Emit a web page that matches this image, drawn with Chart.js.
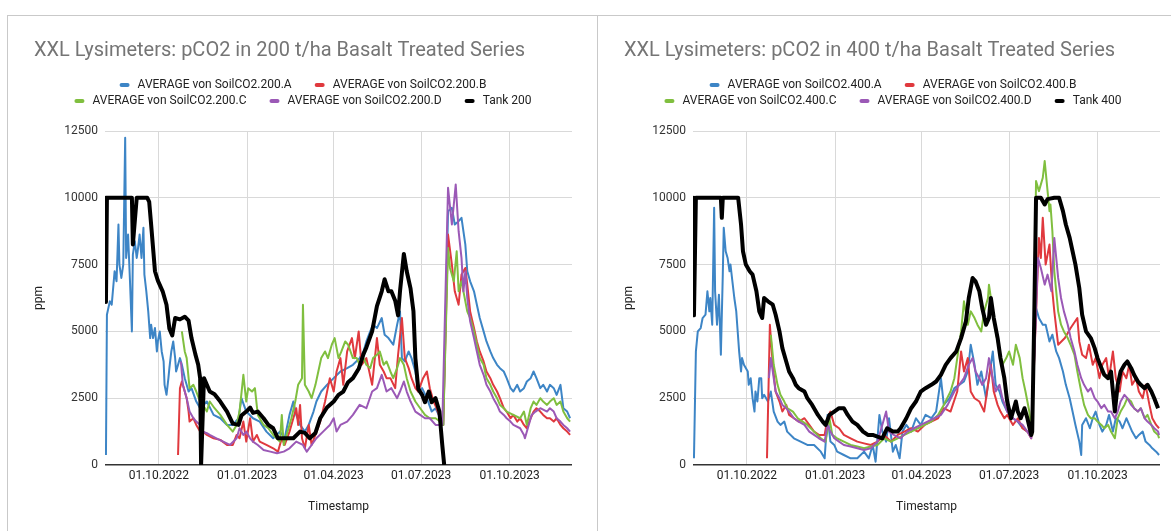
<!DOCTYPE html>
<html>
<head>
<meta charset="utf-8">
<script src="https://cdn.jsdelivr.net/npm/chart.js@4.4.0/dist/chart.umd.min.js"></script>
<style>
  body { margin:0; background:#fff; overflow:hidden; width:1171px; height:531px; position:relative; }
  .card { position:absolute; top:15px; border-top:1px solid #c9c9c9; border-left:1px solid #c9c9c9; width:590px; height:520px; }
  canvas { display:block; }
</style>
</head>
<body>
<div class="card" style="left:7px"><canvas id="c200" width="590" height="515"></canvas></div>
<div class="card" style="left:597px"><canvas id="c400" width="590" height="515"></canvas></div>
<script>
// x values are days since 01.10.2022, y values are ppm
const tickDays = [0, 92, 182, 273, 365];
const tickLabels = ['01.10.2022', '01.01.2023', '01.04.2023', '01.07.2023', '01.10.2023'];
const yTicks = [0, 2500, 5000, 7500, 10000, 12500];

const tank200 = [[-56,10000],[-55,6100],[-54,10000],[-28,10000],[-27,8250],[-23,10000],[-12,10000],[-10,9850],[-8,9000],[-4,7250],[-1,6900],[4,6500],[8,6000],[11,5100],[14,4850],[17,5500],[22,5450],[27,5550],[31,5400],[34,4750],[38,4150],[41,3750],[43,3250],[44,0],[47,3250],[53,2750],[58,2650],[64,2375],[71,2000],[77,1550],[83,1500],[86,1850],[91,2000],[95,2150],[98,1950],[103,2000],[109,1750],[114,1500],[119,1375],[124,1000],[133,1000],[140,1000],[147,1250],[152,1200],[157,1000],[163,1200],[168,1750],[175,2150],[182,2375],[187,2625],[192,2750],[197,3100],[202,3250],[208,3600],[213,4150],[216,4400],[222,5000],[227,5950],[232,6500],[235,6950],[239,6500],[242,6500],[246,6150],[249,5600],[251,6500],[255,7900],[258,7250],[262,6600],[265,5750],[267,4000],[270,2850],[274,2625],[277,2350],[281,2750],[284,2350],[288,2500],[292,2000],[295,750],[297,0]];

const soilA200 = [[-55,375],[-54,5625],[-51,6125],[-49,6000],[-46,7250],[-44,6875],[-42,9000],[-41,7500],[-39,7000],[-37,7500],[-35,12250],[-34,7750],[-32,8625],[-30,6875],[-28,5000],[-27,7875],[-25,8375],[-23,7750],[-22,8000],[-20,8625],[-18,7750],[-16,8875],[-15,7125],[-13,6500],[-11,5750],[-9,4750],[-8,5250],[-6,4750],[-4,5125],[-2,4250],[-1,4625],[1,5000],[3,4250],[5,3875],[6,3000],[8,2625],[10,3250],[11,3625],[13,4250],[15,4625],[17,4000],[18,3500],[22,4000],[24,3750],[27,3250],[31,2750],[34,2875],[39,2375],[43,2125],[50,2375],[57,1875],[64,1750],[71,1500],[77,1500],[83,1750],[86,2500],[91,2000],[98,1750],[105,1625],[112,1250],[119,1000],[126,1250],[131,1000],[136,1875],[140,2375],[143,1875],[147,1500],[152,1250],[156,1500],[161,2000],[164,2375],[169,2750],[175,3000],[182,3250],[189,3500],[196,3625],[202,3750],[209,4000],[213,4250],[216,4625],[220,5000],[223,5250],[227,5125],[232,5500],[235,4875],[239,4750],[244,4500],[248,5250],[251,5750],[253,4000],[256,3875],[260,4250],[263,4000],[267,3500],[270,2750],[274,2875],[279,2500],[284,2000],[288,2125],[293,1750],[296,1500],[301,9500],[305,9625],[308,9000],[312,9125],[315,9250],[319,8250],[321,7250],[324,6875],[328,6500],[331,6000],[334,5500],[338,5000],[341,4625],[345,4250],[348,4000],[352,3750],[355,3625],[359,3500],[362,3250],[366,2875],[369,2750],[373,3000],[376,2750],[380,2875],[383,3125],[387,3250],[390,3500],[393,3250],[397,2875],[400,3000],[404,2750],[407,3000],[411,2875],[414,2625],[418,3000],[421,2125],[425,2000],[428,1750]];

const soilB200 = [[20,375],[22,2875],[24,3125],[25,3000],[27,2750],[29,2500],[31,2000],[32,1625],[36,1750],[39,1500],[43,1250],[46,1250],[50,1125],[57,1000],[64,940],[71,750],[77,750],[81,1125],[84,1000],[88,1625],[91,875],[95,1750],[98,875],[102,1125],[105,875],[112,750],[119,625],[124,500],[128,1000],[131,750],[136,1250],[140,1750],[143,2125],[145,1500],[147,2250],[149,1000],[152,625],[156,1500],[159,750],[163,1125],[168,1625],[173,2375],[178,3250],[182,2750],[185,3500],[189,4000],[192,3000],[196,4250],[201,4750],[204,4000],[208,5000],[211,3750],[216,4000],[222,3000],[227,4750],[230,3750],[234,3500],[237,3250],[241,3250],[246,2875],[249,4125],[253,5500],[256,4000],[260,3625],[263,3250],[267,2875],[270,2750],[275,3250],[279,3500],[282,2875],[286,2375],[289,2125],[293,1750],[296,1500],[301,8625],[305,7500],[308,6500],[312,6000],[315,7125],[319,7375],[321,6750],[324,5750],[328,5125],[331,4625],[334,4250],[338,3875],[341,3500],[345,3250],[348,3000],[352,2750],[355,2500],[359,2125],[362,2000],[366,1750],[369,1875],[373,1625],[376,1750],[380,1500],[383,1375],[387,1750],[390,2000],[393,2125],[397,2000],[400,1875],[404,1750],[407,1750],[411,1625],[414,1750],[418,1500],[421,1375],[425,1250],[428,1125]];

const soilC200 = [[24,5000],[25,4750],[27,4250],[29,4000],[31,3250],[32,2875],[36,3000],[39,2750],[43,2375],[46,2250],[50,2000],[53,2375],[58,2125],[64,1875],[71,1500],[77,1250],[81,1500],[84,2000],[88,3375],[91,2375],[93,2875],[97,2750],[100,2875],[103,1875],[109,1500],[114,1375],[119,1125],[126,875],[128,1875],[130,750],[133,1125],[138,1750],[142,2375],[145,3000],[149,3250],[150,6000],[152,3000],[156,2750],[159,2500],[163,3000],[166,3500],[169,4000],[173,4250],[176,4000],[180,4500],[183,4750],[187,4000],[190,4250],[194,4625],[197,4500],[202,4000],[206,4000],[209,3750],[213,4000],[216,3750],[220,3625],[223,4000],[227,4125],[230,4250],[234,3750],[237,3875],[241,3500],[244,3250],[248,3625],[251,4000],[255,3750],[258,3250],[262,2750],[267,2375],[272,2125],[277,1875],[282,1750],[288,1750],[293,1625],[296,1500],[301,8125],[303,7375],[307,6875],[310,8000],[312,6500],[315,6875],[319,6125],[321,5750],[324,5500],[328,5000],[331,4500],[334,4000],[338,3750],[341,3250],[345,3000],[348,2750],[352,2500],[355,2250],[359,2125],[362,2000],[369,1875],[376,1750],[380,2000],[383,1500],[387,2125],[390,2375],[393,2250],[397,2500],[400,2375],[404,2250],[407,2375],[411,2500],[414,2250],[418,2375],[421,2000],[425,1750],[428,1625]];

const soilD200 = [[23,3875],[25,3000],[29,2500],[32,2000],[36,1750],[39,1625],[43,1500],[46,1250],[50,1190],[53,1125],[60,1000],[67,875],[74,750],[81,1000],[84,1375],[88,1125],[91,1250],[95,1000],[98,875],[103,750],[109,560],[116,500],[123,440],[130,500],[136,625],[143,875],[150,750],[154,500],[159,750],[164,1000],[171,1250],[178,1500],[182,1750],[185,1250],[189,1500],[196,1625],[202,1875],[209,2250],[216,2125],[222,2750],[227,2875],[232,3375],[237,2750],[242,2875],[248,2500],[251,2750],[255,3125],[258,2750],[262,2375],[267,2000],[272,1875],[277,1750],[282,1750],[288,1500],[295,1500],[301,10375],[305,9000],[307,9750],[309,10500],[312,8750],[315,7750],[317,6500],[319,7250],[321,6250],[324,5375],[328,4750],[331,4250],[334,3750],[338,3375],[341,3000],[345,2750],[348,2500],[352,2250],[355,2000],[359,1875],[362,1750],[366,1625],[369,1500],[376,1375],[380,1125],[381,1000],[385,1500],[388,1875],[392,2000],[397,2125],[404,2000],[407,2125],[411,2000],[414,1750],[418,1625],[421,1500],[425,1375],[428,1250]];

const tank400 = [[-56,10000],[-55,5600],[-53,10000],[-27,10000],[-26,9250],[-25,10000],[-9,10000],[-6,9000],[-4,8000],[-1,7500],[3,7250],[6,7125],[10,6500],[13,5750],[16,5500],[18,6250],[22,6125],[27,6000],[30,5625],[34,5000],[37,4375],[41,3875],[44,3500],[48,3250],[51,3000],[54,2875],[60,2750],[63,2500],[68,2250],[74,1875],[79,1625],[82,1500],[86,1875],[91,2000],[96,2125],[101,2125],[105,1875],[110,1625],[115,1500],[121,1250],[126,1125],[131,1125],[136,1060],[141,1000],[146,1375],[152,1250],[157,1250],[160,1375],[166,1750],[171,2125],[176,2375],[181,2750],[186,2875],[192,3000],[197,3125],[202,3375],[207,3750],[212,4000],[218,4250],[223,4750],[228,5375],[231,6250],[235,7000],[238,6875],[242,6500],[245,5875],[249,5250],[252,5500],[254,6250],[257,5500],[261,4750],[264,4000],[268,3250],[271,2375],[275,1750],[278,2125],[280,2375],[282,2000],[285,1750],[289,2125],[292,1750],[296,1125],[297,1250],[299,5250],[301,10000],[306,10000],[310,9750],[313,9950],[320,10000],[325,10000],[329,9500],[332,9000],[336,8500],[339,8000],[342,7500],[346,6625],[349,5625],[353,5000],[358,4750],[362,4375],[365,4000],[369,3625],[372,3375],[376,3250],[379,3500],[383,2000],[386,3000],[389,3500],[393,3750],[396,3875],[400,3625],[403,3375],[407,3125],[410,3000],[414,2875],[417,3000],[421,2750],[424,2500],[428,2125]];

const soilA400 = [[-55,250],[-53,4250],[-51,5000],[-48,5125],[-46,5500],[-43,5625],[-41,6500],[-39,5750],[-38,6250],[-36,5250],[-34,9625],[-33,6500],[-31,5250],[-29,6375],[-27,4125],[-25,7125],[-24,8875],[-22,8000],[-20,7750],[-18,7250],[-17,7500],[-15,6875],[-13,6250],[-11,5750],[-10,5250],[-8,4250],[-6,3500],[-5,4000],[-3,3750],[1,3500],[2,3000],[4,3250],[6,2500],[8,2000],[9,2750],[11,2375],[13,3250],[15,3250],[16,2500],[18,2625],[22,2375],[25,2750],[28,2000],[32,1625],[35,1500],[39,1625],[42,1250],[49,1000],[56,875],[63,750],[70,750],[77,500],[81,250],[84,1875],[87,875],[91,750],[94,500],[101,375],[108,250],[115,250],[122,500],[127,250],[131,750],[134,125],[138,1875],[141,1250],[145,875],[148,1750],[152,500],[155,750],[159,250],[162,1250],[166,1500],[171,1250],[176,1750],[181,1500],[186,1875],[192,1750],[197,2000],[202,3250],[205,2250],[211,2500],[216,2875],[221,3000],[226,3125],[230,3500],[233,4500],[237,3750],[240,3000],[244,3500],[249,2500],[252,3250],[256,4250],[259,3000],[263,2750],[266,2375],[271,2000],[277,1750],[282,1625],[287,1375],[292,1250],[296,1125],[301,5875],[304,5500],[308,5250],[311,5250],[315,4625],[318,4875],[322,4250],[325,4000],[329,3500],[332,3000],[336,2500],[339,2000],[342,1500],[346,875],[348,375],[349,1500],[353,1750],[357,1375],[360,1750],[363,2000],[367,1500],[370,1250],[374,1500],[377,1875],[381,1250],[384,1750],[388,1625],[391,1375],[395,1750],[398,1500],[401,1250],[405,1000],[408,1125],[412,1250],[415,875],[419,750],[422,625],[426,500],[429,375]];

const soilB400 = [[21,250],[24,5250],[27,3750],[30,2750],[34,2375],[37,2000],[41,2250],[44,1875],[49,1750],[54,1625],[60,1750],[65,1500],[70,1250],[75,1125],[81,1125],[84,1750],[87,2000],[91,1500],[96,1375],[101,1125],[108,1000],[115,875],[122,810],[129,750],[136,875],[143,1125],[150,875],[157,1125],[164,1250],[171,1375],[178,1250],[185,1500],[192,1625],[199,1750],[205,2125],[212,2000],[219,2750],[223,4250],[226,3500],[230,4000],[233,2750],[237,2500],[242,2375],[247,2000],[251,3000],[254,3750],[257,2750],[261,2250],[264,2000],[268,1750],[271,1875],[277,1500],[282,1750],[287,1375],[292,1250],[296,1000],[304,8500],[306,7750],[308,9250],[311,7500],[315,8250],[318,6500],[320,5750],[324,4500],[331,4750],[337,5125],[344,5500],[346,4625],[349,4125],[353,4000],[356,4500],[360,3750],[363,4000],[367,3250],[370,3750],[374,4000],[377,3250],[381,4250],[384,3250],[388,2750],[391,3500],[395,3250],[398,3750],[401,3000],[405,3250],[408,2750],[412,2500],[415,3000],[419,2250],[422,1750],[426,1500],[429,1375]];

const soilC400 = [[25,4875],[28,3750],[32,3000],[35,2625],[39,2375],[42,2125],[48,2000],[53,1750],[58,1625],[63,1500],[70,1250],[77,1000],[82,875],[86,1750],[89,1125],[94,1000],[101,875],[108,750],[115,690],[122,625],[129,690],[136,750],[143,1000],[150,875],[157,1000],[164,1125],[171,1250],[178,1375],[185,1500],[192,1625],[199,1875],[205,2250],[212,2750],[216,3250],[219,4000],[223,5000],[226,6125],[230,5250],[233,5750],[237,5500],[240,5250],[244,5000],[247,5750],[251,6250],[252,6750],[256,5750],[259,5000],[263,4250],[266,3750],[270,4000],[273,4250],[277,3750],[280,4500],[284,4000],[287,3250],[290,2750],[294,2000],[297,1125],[301,10625],[304,10250],[308,10750],[310,11375],[313,10250],[315,9500],[316,9750],[318,8750],[320,7250],[324,5750],[327,5250],[330,5000],[334,4750],[337,4500],[341,4125],[344,3500],[348,2750],[351,2250],[355,1875],[358,1750],[362,1750],[365,1625],[369,1500],[372,1375],[376,1500],[379,1250],[383,1000],[386,1750],[389,2000],[393,2250],[396,2500],[400,2375],[403,2125],[407,2000],[410,2125],[414,1750],[417,1875],[421,1500],[424,1250],[428,1125],[429,1000]];

const soilD400 = [[23,3250],[25,4000],[27,3500],[30,2750],[34,2500],[37,2250],[41,2125],[44,2000],[49,1750],[54,1625],[60,1500],[65,1250],[70,1125],[75,1000],[81,875],[84,1500],[87,1250],[91,1000],[96,875],[101,750],[108,690],[115,625],[122,560],[129,625],[136,875],[141,1500],[145,2000],[148,1250],[153,1125],[160,1000],[167,1250],[174,1375],[181,1500],[188,1625],[195,1750],[202,1875],[209,2250],[216,2750],[221,3000],[226,3250],[231,3750],[235,4000],[238,3500],[242,3250],[245,3000],[249,3250],[252,4000],[256,3250],[259,2750],[263,3000],[266,2500],[271,2000],[277,1750],[282,1625],[287,1500],[292,1250],[296,1000],[303,7750],[306,7375],[310,6750],[313,7125],[317,6500],[320,8500],[324,7000],[327,6250],[330,5750],[334,5250],[337,4750],[341,4250],[344,3750],[348,3250],[351,3000],[355,2750],[358,2875],[362,2500],[365,2375],[369,2125],[372,2250],[376,2000],[379,2000],[383,1750],[386,2000],[389,2375],[393,2625],[396,2500],[400,2250],[403,2125],[407,2000],[410,2125],[414,1750],[417,1625],[421,1500],[424,1375],[428,1250],[429,1125]];

const colors = { a: '#3d85c6', b: '#e0393e', c: '#80bf3f', d: '#9b59b6', tank: '#000000' };
const FONT = 'Roboto';

// title + two-row legend, drawn by hand so they sit where the original has them
const headerPlugin = {
  id: 'header',
  afterDraw(chart, args, opts) {
    const ctx = chart.ctx;
    const sets = chart.data.datasets;
    ctx.save();
    ctx.textBaseline = 'middle';
    ctx.font = '20px ' + FONT;
    ctx.fillStyle = '#757575';
    ctx.fillText(opts.text, 26, 35);

    ctx.font = '12px ' + FONT;
    const rows = [[0, 1], [2, 3, 4]];
    rows.forEach((row, r) => {
      const y = 69 + r * 16;
      const widths = row.map(i => 10 + 8 + ctx.measureText(sets[i].label).width);
      const total = widths.reduce((s, w) => s + w, 0) + 23 * (row.length - 1);
      let x = chart.width / 2 - total / 2;
      row.forEach((i, k) => {
        ctx.fillStyle = sets[i].borderColor;
        ctx.beginPath();
        ctx.roundRect(x, y - 2, 10, 4, 2);
        ctx.fill();
        ctx.fillStyle = '#222';
        ctx.fillText(sets[i].label, x + 18, y);
        x += widths[k] + 23;
      });
    });
    ctx.restore();
  }
};

function series(label, pairs, color, width, order) {
  return {
    label: label,
    data: pairs.map(p => ({ x: p[0], y: p[1] })),
    borderColor: color,
    backgroundColor: color,
    borderWidth: width,
    order: order
  };
}

function makeChart(id, title, sets, shift) {
  new Chart(document.getElementById(id), {
    type: 'line',
    data: { datasets: sets },
    plugins: [headerPlugin],
    options: {
      responsive: false,
      animation: false,
      layout: { padding: { left: 6, right: 26 + shift, top: 115, bottom: 16 } },
      elements: { point: { radius: 0 }, line: { tension: 0, borderJoinStyle: 'round' } },
      plugins: {
        legend: { display: false },
        tooltip: { enabled: false },
        header: { text: title }
      },
      scales: {
        x: {
          type: 'linear',
          min: -56,
          max: 430,
          afterBuildTicks: s => { s.ticks = tickDays.map(v => ({ value: v })); },
          afterFit: s => { s.height = 50; },
          ticks: {
            autoSkip: false, maxRotation: 0, padding: 4,
            color: '#222', font: { family: FONT, size: 12 },
            callback: v => tickLabels[tickDays.indexOf(v)]
          },
          grid: { color: '#d9d9d9', drawTicks: false },
          border: { display: false },
          title: { display: true, text: 'Timestamp', color: '#222', font: { family: FONT, size: 12 }, padding: { top: 0, bottom: 1 } }
        },
        y: {
          min: 0,
          max: 12500,
          afterBuildTicks: s => { s.ticks = yTicks.map(v => ({ value: v })); },
          afterFit: s => { s.width = 91 - shift; },
          ticks: { padding: 7, color: '#333', font: { family: FONT, size: 12 }, callback: v => String(v) },
          grid: {
            drawTicks: false,
            color: c => c.tick && c.tick.value === 0 ? '#333' : '#d9d9d9',
            lineWidth: c => c.tick && c.tick.value === 0 ? 1.5 : 1
          },
          border: { display: false },
          title: { display: true, text: 'ppm', color: '#222', font: { family: FONT, size: 12 }, padding: { top: 18, bottom: 0 } }
        }
      }
    }
  });
}

makeChart('c200', 'XXL Lysimeters: pCO2 in 200 t/ha Basalt Treated Series', [
  series('AVERAGE von SoilCO2.200.A', soilA200, colors.a, 2, 4),
  series('AVERAGE von SoilCO2.200.B', soilB200, colors.b, 2, 3),
  series('AVERAGE von SoilCO2.200.C', soilC200, colors.c, 2, 2),
  series('AVERAGE von SoilCO2.200.D', soilD200, colors.d, 2, 1),
  series('Tank 200', tank200, colors.tank, 4, 0)
], 0);

makeChart('c400', 'XXL Lysimeters: pCO2 in 400 t/ha Basalt Treated Series', [
  series('AVERAGE von SoilCO2.400.A', soilA400, colors.a, 2, 4),
  series('AVERAGE von SoilCO2.400.B', soilB400, colors.b, 2, 3),
  series('AVERAGE von SoilCO2.400.C', soilC400, colors.c, 2, 2),
  series('AVERAGE von SoilCO2.400.D', soilD400, colors.d, 2, 1),
  series('Tank 400', tank400, colors.tank, 4, 0)
], 2);
</script>
</body>
</html>
